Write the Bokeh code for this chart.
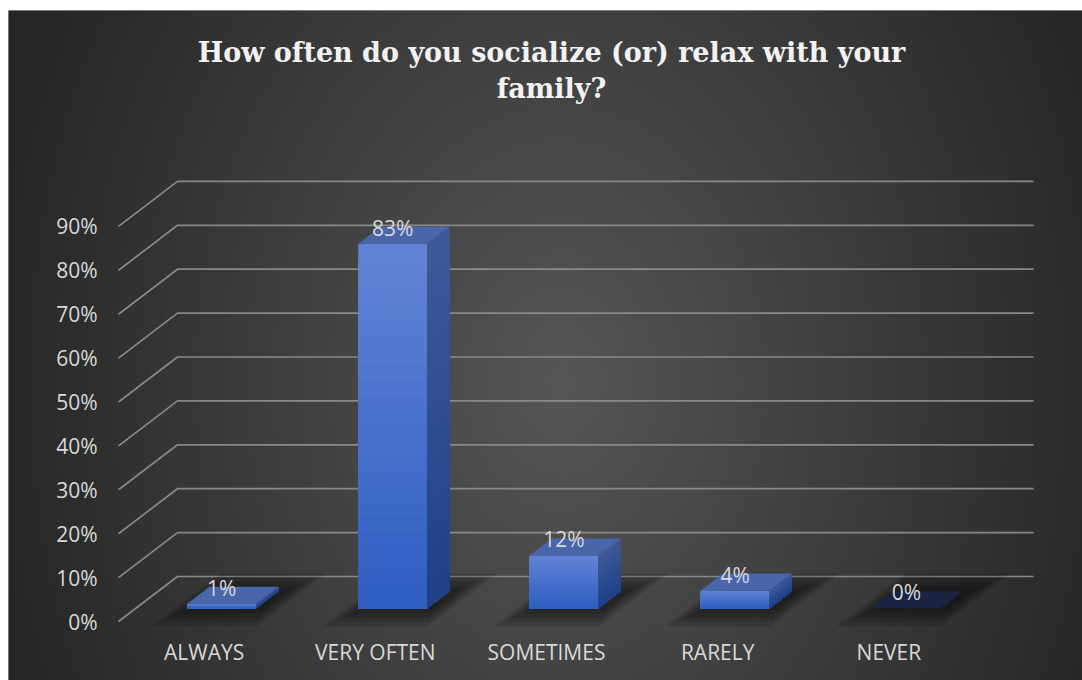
import numpy as np
from bokeh.plotting import figure
from bokeh.models import (ColumnDataSource, Range1d, LinearAxis, FixedTicker,
                          PrintfTickFormatter, Label)
from bokeh.core.properties import value
from bokeh.embed import file_html
from bokeh.resources import INLINE

# ---------------- data ----------------
categories = ["ALWAYS", "VERY OFTEN", "SOMETIMES", "RARELY", "NEVER"]
percent = [1, 83, 12, 4, 0]
y_ticks = [0, 10, 20, 30, 40, 50, 60, 70, 80, 90]
title_lines = ["How often do you socialize (or) relax with your", "family?"]

# ---------------- geometry ----------------
W, H = 1082, 680
FL, FT = 8, 10                      # white margin left / top (frame offset)
FW, FH = W - FL, H - FT             # frame size
X0_PAGE, X_UNIT = 118.0, 171.2      # page x of floor front-left, px per category
Y0_PAGE, Y_UNIT = 621.0, 4.39       # page y of 0% on front plane, px per percent
DEPTH_X = 59.0 / X_UNIT             # projection of one unit of depth
DEPTH_Y = 45.0 / Y_UNIT
Z0, Z1 = 0.296, 0.674               # bar depth span
HALF_W = 0.2015                     # half bar width (category units)

x_start = (FL - X0_PAGE) / X_UNIT
x_end = (W - X0_PAGE) / X_UNIT
y_start = -(H - Y0_PAGE) / Y_UNIT
y_end = (Y0_PAGE - FT) / Y_UNIT


def proj(x, v, z):
    return x + z * DEPTH_X, v + z * DEPTH_Y


def lerp_color(c0, c1, f):
    r, g, b = (int(round(a + (b_ - a) * f)) for a, b_ in zip(c0, c1))
    return "#%02x%02x%02x" % (r, g, b)


p = figure(width=W, height=H,
           x_range=Range1d(x_start, x_end), y_range=Range1d(y_start, y_end),
           x_axis_type=None, y_axis_type=None,
           toolbar_location=None, output_backend="svg",
           min_border_left=FL, min_border_top=FT,
           min_border_right=0, min_border_bottom=0,
           outline_line_color=None,
           background_fill_color="#2a2a2a", border_fill_color="white")

# ---------------- background radial gradient ----------------
step = 2
nx, ny = FW // step, FH // step
px = FL + (np.arange(nx) + 0.5) * step
py = H - (np.arange(ny) + 0.5) * step
GX, GY = np.meshgrid(px, py)
t = np.sqrt(((GX - 560) / 580.0) ** 2 + ((GY - 380) / 780.0) ** 2)
g = np.clip(86 - 48 * t, 38, 86).astype(np.uint32)
img = np.ascontiguousarray((np.uint32(255) << 24) | (g << 16) | (g << 8) | g)
p.image_rgba(image=[img], x=x_start, y=y_start,
             dw=x_end - x_start, dh=y_end - y_start)

# ---------------- 3D gridlines ----------------
n_cat = len(categories)
gxs, gys = [], []
for v in y_ticks:
    gxs.append([0, DEPTH_X, n_cat + DEPTH_X])
    gys.append([v, v + DEPTH_Y, v + DEPTH_Y])
p.multi_line(gxs, gys, line_color="#898989", line_width=1.7)

# ---------------- shadows ----------------
sh_xs, sh_ys = [], []
for i, v in enumerate(percent):
    c = i + 0.5
    for e in (2, 6, 10, 14, 18):
        ex = e / X_UNIT
        ez = e / 45.0
        shift = 6 / X_UNIT
        pts = [proj(c - HALF_W - ex + shift, 0, Z0 - ez),
               proj(c + HALF_W + ex + shift, 0, Z0 - ez),
               proj(c + HALF_W + ex + shift, 0, Z1 + ez),
               proj(c - HALF_W - ex + shift, 0, Z1 + ez)]
        sh_xs.append([q[0] for q in pts])
        sh_ys.append([q[1] for q in pts])
p.patches(sh_xs, sh_ys, fill_color="black", fill_alpha=0.12, line_color=None)

# ---------------- bars ----------------
FRONT_TOP, FRONT_BOT = (99, 132, 213), (45, 94, 193)
SIDE_TOP, SIDE_BOT = (64, 90, 152), (31, 64, 136)
TOP_FACE = "#4a66ab"
ZERO_FACE = "#1b2441"
N = 24

fq = dict(left=[], right=[], bottom=[], top=[], color=[])
sx, sy, sc = [], [], []
tx, ty, tc = [], [], []
for i, v in enumerate(percent):
    c = i + 0.5
    fl, fb = proj(c - HALF_W, 0, Z0)
    fr, _ = proj(c + HALF_W, 0, Z0)
    if v > 0:
        for k in range(N):
            frac = 1 - k / N
            mid = 1 - (k + 0.5) / N
            fq["left"].append(fl)
            fq["right"].append(fr)
            fq["bottom"].append(fb)
            fq["top"].append(fb + v * frac)
            fq["color"].append(lerp_color(FRONT_BOT, FRONT_TOP, mid))
            hv = v * frac
            pts = [proj(c + HALF_W, 0, Z0), proj(c + HALF_W, hv, Z0),
                   proj(c + HALF_W, hv, Z1), proj(c + HALF_W, 0, Z1)]
            sx.append([q[0] for q in pts])
            sy.append([q[1] for q in pts])
            sc.append(lerp_color(SIDE_BOT, SIDE_TOP, mid))
    pts = [proj(c - HALF_W, v, Z0), proj(c + HALF_W, v, Z0),
           proj(c + HALF_W, v, Z1), proj(c - HALF_W, v, Z1)]
    tx.append([q[0] for q in pts])
    ty.append([q[1] for q in pts])
    tc.append(TOP_FACE if v > 0 else ZERO_FACE)

p.quad(source=ColumnDataSource(fq), left="left", right="right", bottom="bottom",
       top="top", fill_color="color", line_color=None)
p.patches(sx, sy, fill_color=sc, line_color=None)
p.patches(tx, ty, fill_color=tc, line_color=None)

# ---------------- data labels ----------------
lab = dict(x=[], y=[], text=[])
for i, v in enumerate(percent):
    lx, _ = proj(i + 0.5, v, Z0)
    _, ly = proj(i + 0.5, v, Z1)
    lab["x"].append(lx)
    lab["y"].append(ly)
    lab["text"].append(f"{v}%")
p.text(x="x", y="y", text="text", source=ColumnDataSource(lab),
       text_font=value("Open Sans"), text_font_size="21px",
       text_color="#d9d9d9", text_align="center", text_baseline="alphabetic",
       y_offset=1)

# ---------------- axes ----------------
yax = LinearAxis(fixed_location=0,
                 ticker=FixedTicker(ticks=y_ticks),
                 formatter=PrintfTickFormatter(format="%d%%"),
                 axis_line_color=None, major_tick_line_color=None,
                 minor_tick_line_color=None, major_tick_out=0, major_tick_in=0,
                 major_label_standoff=21,
                 major_label_text_font="Open Sans",
                 major_label_text_font_size="21px",
                 major_label_text_color="#d9d9d9")
p.add_layout(yax, "left")

x_ticks = [i + 0.5 for i in range(n_cat)]
xax = LinearAxis(fixed_location=0,
                 ticker=FixedTicker(ticks=x_ticks),
                 major_label_overrides={x: c for x, c in zip(x_ticks, categories)},
                 axis_line_color=None, major_tick_line_color=None,
                 minor_tick_line_color=None, major_tick_out=0, major_tick_in=0,
                 major_label_standoff=16,
                 major_label_text_font="Open Sans",
                 major_label_text_font_size="21px",
                 major_label_text_color="#d9d9d9")
p.add_layout(xax, "below")

# ---------------- title ----------------
title_mid_page = [52, 88]
for txt, ym in zip(title_lines, title_mid_page):
    p.add_layout(Label(x=551 - FL, y=H - ym, x_units="screen", y_units="screen",
                       text=txt, text_align="center", text_baseline="middle",
                       text_font="DejaVu Serif", text_font_style="bold",
                       text_font_size="27px", text_color="#f2f2f2"))

open("out.html", "w").write(file_html(p, INLINE))
